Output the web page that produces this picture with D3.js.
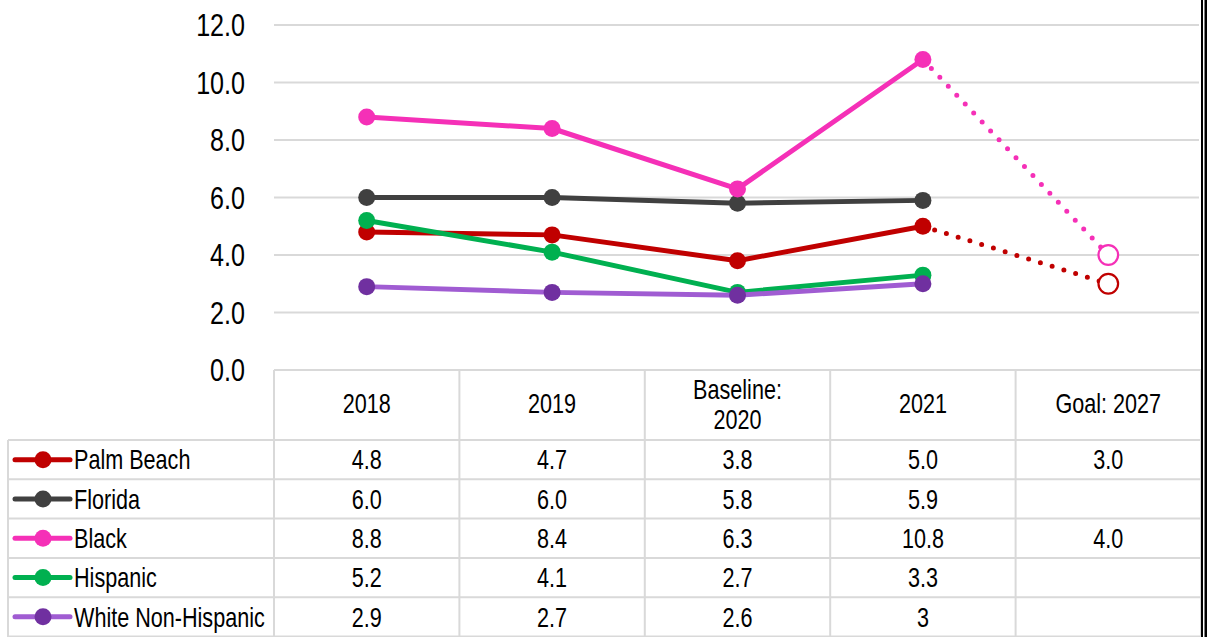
<!DOCTYPE html>
<html>
<head>
<meta charset="utf-8">
<script src="https://cdn.jsdelivr.net/npm/d3@7"></script>
<style>
  html, body { margin: 0; padding: 0; background: #fff; }
  svg { display: block; font-family: "Liberation Sans", Arial, sans-serif; }
</style>
</head>
<body>
<svg id="chart" width="1207" height="637"></svg>
<script>
// Column headings of the data table / x categories
const categories = ["2018", "2019", "Baseline:\n2020", "2021", "Goal: 2027"];
const yTicks = [0, 2, 4, 6, 8, 10, 12];

// Rates by year (table text; plotted values are read from the same strings)
const palmBeach         = ["4.8", "4.7", "3.8", "5.0"];
const florida           = ["6.0", "6.0", "5.8", "5.9"];
const black             = ["8.8", "8.4", "6.3", "10.8"];
const hispanic          = ["5.2", "4.1", "2.7", "3.3"];
const whiteNonHispanic  = ["2.9", "2.7", "2.6", "3"];

// 2027 targets
const palmBeachGoal = "3.0";
const blackGoal = "4.0";

const series = [
  { name: "Palm Beach",         vals: palmBeach,        goal: palmBeachGoal, line: "#c00000", dot: "#c00000" },
  { name: "Florida",            vals: florida,          goal: null,          line: "#404040", dot: "#404040" },
  { name: "Black",              vals: black,            goal: blackGoal,     line: "#f530b7", dot: "#f530b7" },
  { name: "Hispanic",           vals: hispanic,         goal: null,          line: "#00b050", dot: "#00b050" },
  { name: "White Non-Hispanic", vals: whiteNonHispanic, goal: null,          line: "#a05cd2", dot: "#7030a0" }
];

const svg = d3.select("#chart");
const gridColor = "#d9d9d9";

const x = d3.scaleBand().domain(categories).range([274, 1201]);
const cx = c => x(c) + x.bandwidth() / 2;
const y = d3.scaleLinear().domain([0, 12]).range([370, 25]);

// narrow type: horizontally condensed text
function label(g, px, py, s, size, anchor, sx = 0.8) {
  return g.append("text")
    .attr("transform", `translate(${px},${py}) scale(${sx},1)`)
    .attr("text-anchor", anchor)
    .attr("font-size", size)
    .attr("fill", "#000")
    .text(s);
}

// Gridlines
const grid = svg.append("g");
grid.selectAll("line").data(yTicks.filter(t => t > 0)).join("line")
  .attr("x1", 274).attr("x2", 1199)
  .attr("y1", d => y(d)).attr("y2", d => y(d))
  .attr("stroke", gridColor).attr("stroke-width", 2);

// Y axis labels
const yAxis = svg.append("g");
yTicks.forEach(t => label(yAxis, 245, y(t) + 11, d3.format(".1f")(t), 31, "end", 0.81));

// Table
const rowY = d3.scaleBand().domain(series.map(s => s.name)).range([440, 636.5]);
const table = svg.append("g").attr("stroke", gridColor).attr("stroke-width", 2);
table.append("line").attr("x1", 274).attr("x2", 1201).attr("y1", 370).attr("y2", 370);
categories.forEach(c => table.append("line").attr("x1", x(c)).attr("x2", x(c)).attr("y1", 370).attr("y2", 637));
table.append("line").attr("x1", 1201).attr("x2", 1201).attr("y1", 370).attr("y2", 637);
table.append("line").attr("x1", 8).attr("x2", 8).attr("y1", 440).attr("y2", 637);
[440].concat(series.map(s => rowY(s.name) + rowY.bandwidth())).forEach(v =>
  table.append("line").attr("x1", 8).attr("x2", 1201).attr("y1", v).attr("y2", v));

// Header text
const head = svg.append("g");
categories.forEach(c => {
  const lines = c.split("\n");
  if (lines.length === 1) label(head, cx(c), 413, c, 27, "middle");
  else lines.forEach((l, i) => label(head, cx(c), 399 + i * 30, l, 27, "middle"));
});

// Rows: legend key + values
const rows = svg.append("g");
series.forEach(s => {
  const ry = rowY(s.name) + rowY.bandwidth() / 2;
  rows.append("line").attr("x1", 15).attr("x2", 70).attr("y1", ry).attr("y2", ry)
    .attr("stroke", s.line).attr("stroke-width", 5).attr("stroke-linecap", "round");
  rows.append("circle").attr("cx", 43).attr("cy", ry).attr("r", 8.5).attr("fill", s.dot);
  label(rows, 74, ry + 9.7, s.name, 27, "start");
  s.vals.forEach((v, i) => label(rows, cx(categories[i]), ry + 9.7, v, 27, "middle"));
  if (s.goal) label(rows, cx(categories[4]), ry + 9.7, s.goal, 27, "middle");
});

// Plot lines
const plot = svg.append("g");
const line = d3.line().x(d => d[0]).y(d => d[1]);
series.forEach(s => {
  const pts = s.vals.map((v, i) => [cx(categories[i]), y(+v)]);
  if (s.goal) {
    const last = pts[pts.length - 1];
    const g = [cx(categories[4]), y(+s.goal)];
    plot.append("path").attr("d", line([last, g]))
      .attr("fill", "none").attr("stroke", s.line).attr("stroke-width", 5)
      .attr("stroke-linecap", "round").attr("stroke-dasharray", "0 12.3");
    plot.append("circle").attr("cx", g[0]).attr("cy", g[1]).attr("r", 9.8)
      .attr("fill", "#fff").attr("stroke", s.line).attr("stroke-width", 2.2);
  }
});
series.forEach(s => {
  const pts = s.vals.map((v, i) => [cx(categories[i]), y(+v)]);
  plot.append("path").attr("d", line(pts))
    .attr("fill", "none").attr("stroke", s.line).attr("stroke-width", 5)
    .attr("stroke-linejoin", "round");
  plot.selectAll(null).data(pts).join("circle")
    .attr("cx", d => d[0]).attr("cy", d => d[1]).attr("r", 8.5).attr("fill", s.dot);
});

// Double frame rule on the right
svg.append("rect").attr("x", 1201).attr("y", 0).attr("width", 2).attr("height", 637).attr("fill", "#000");
svg.append("rect").attr("x", 1204.5).attr("y", 0).attr("width", 2.5).attr("height", 637).attr("fill", "#000");
</script>
</body>
</html>
